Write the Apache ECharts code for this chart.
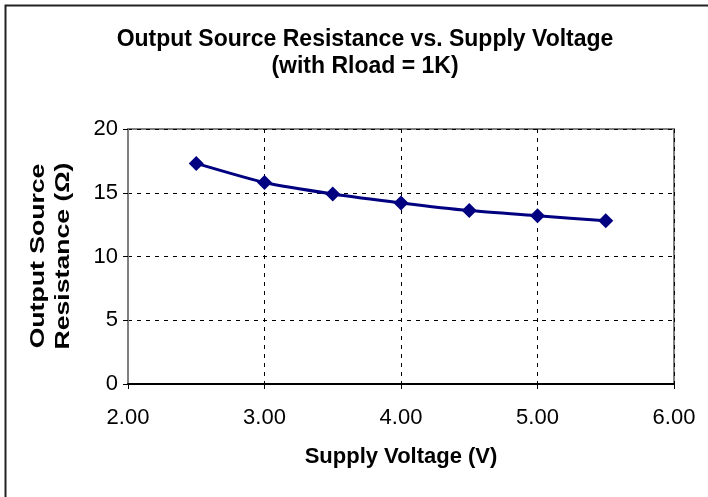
<!DOCTYPE html>
<html>
<head>
<meta charset="utf-8">
<script src="https://cdn.jsdelivr.net/npm/echarts@6/dist/echarts.min.js"></script>
<style>
  html, body { margin: 0; padding: 0; background: #fff; }
  #chart { width: 708px; height: 497px; }
</style>
</head>
<body>
<div id="chart"></div>
<script>
// supply voltage (V) vs output source resistance (ohm)
const voltages = [2.5, 3.0, 3.5, 4.0, 4.5, 5.0, 5.5];
const resistance = [17.3, 15.8, 14.9, 14.2, 13.6, 13.2, 12.8];
const xTicks = { min: 2, max: 6, step: 1 };
const yTicks = { min: 0, max: 20, step: 5 };

const font = 'Liberation Sans, Arial, sans-serif';
const chart = echarts.init(document.getElementById('chart'));

chart.setOption({
  animation: false,
  backgroundColor: '#fff',
  title: {
    text: 'Output Source Resistance vs. Supply Voltage\n(with Rload = 1K)',
    left: 360,
    top: 21,
    textAlign: 'center',
    textStyle: { fontFamily: font, fontWeight: 'bold', fontSize: 23, lineHeight: 27, color: '#000' }
  },
  grid: {
    left: 128, right: 34, top: 129, bottom: 113,
    show: true, borderColor: '#808080', borderWidth: 2
  },
  xAxis: {
    type: 'value',
    min: xTicks.min, max: xTicks.max, interval: xTicks.step,
    name: 'Supply Voltage (V)',
    nameLocation: 'middle',
    nameGap: 62,
    nameTextStyle: { fontFamily: font, fontWeight: 'bold', fontSize: 22, color: '#000' },
    axisLine: { show: true, lineStyle: { color: '#000', width: 2 } },
    axisTick: { show: true, length: 5, lineStyle: { color: '#000' } },
    axisLabel: {
      margin: 23,
      fontFamily: font, fontSize: 22, color: '#000',
      formatter: v => v.toFixed(2)
    },
    splitLine: { show: true, lineStyle: { color: '#000', type: [4, 5], width: 1 } }
  },
  yAxis: {
    type: 'value',
    min: yTicks.min, max: yTicks.max, interval: yTicks.step,
    axisLine: { show: true, lineStyle: { color: '#808080', width: 2 } },
    axisTick: { show: true, length: 5, lineStyle: { color: '#000' } },
    axisLabel: { margin: 10, fontFamily: font, fontSize: 22, color: '#000' },
    splitLine: { show: true, lineStyle: { color: '#000', type: [4, 5], width: 1 } }
  },
  graphic: [
    {
      type: 'rect',
      shape: { x: 5.5, y: 5.5, width: 720, height: 520 },
      style: { fill: 'none', stroke: '#222', lineWidth: 2 },
      z: -1
    },
    {
      type: 'text',
      x: 51, y: 256,
      rotation: Math.PI / 2,
      scaleX: 1.33,
      style: {
        text: 'Output Source\nResistance (Ω)',
        font: 'bold 20px ' + font,
        fill: '#000',
        align: 'center',
        verticalAlign: 'middle',
        lineHeight: 25
      }
    }
  ],
  series: [{
    type: 'line',
    data: voltages.map((v, i) => [v, resistance[i]]),
    symbol: 'diamond',
    symbolSize: 15,
    itemStyle: { color: '#000080' },
    lineStyle: { color: '#000080', width: 3 },
    smooth: 0.2
  }]
});
</script>
</body>
</html>
